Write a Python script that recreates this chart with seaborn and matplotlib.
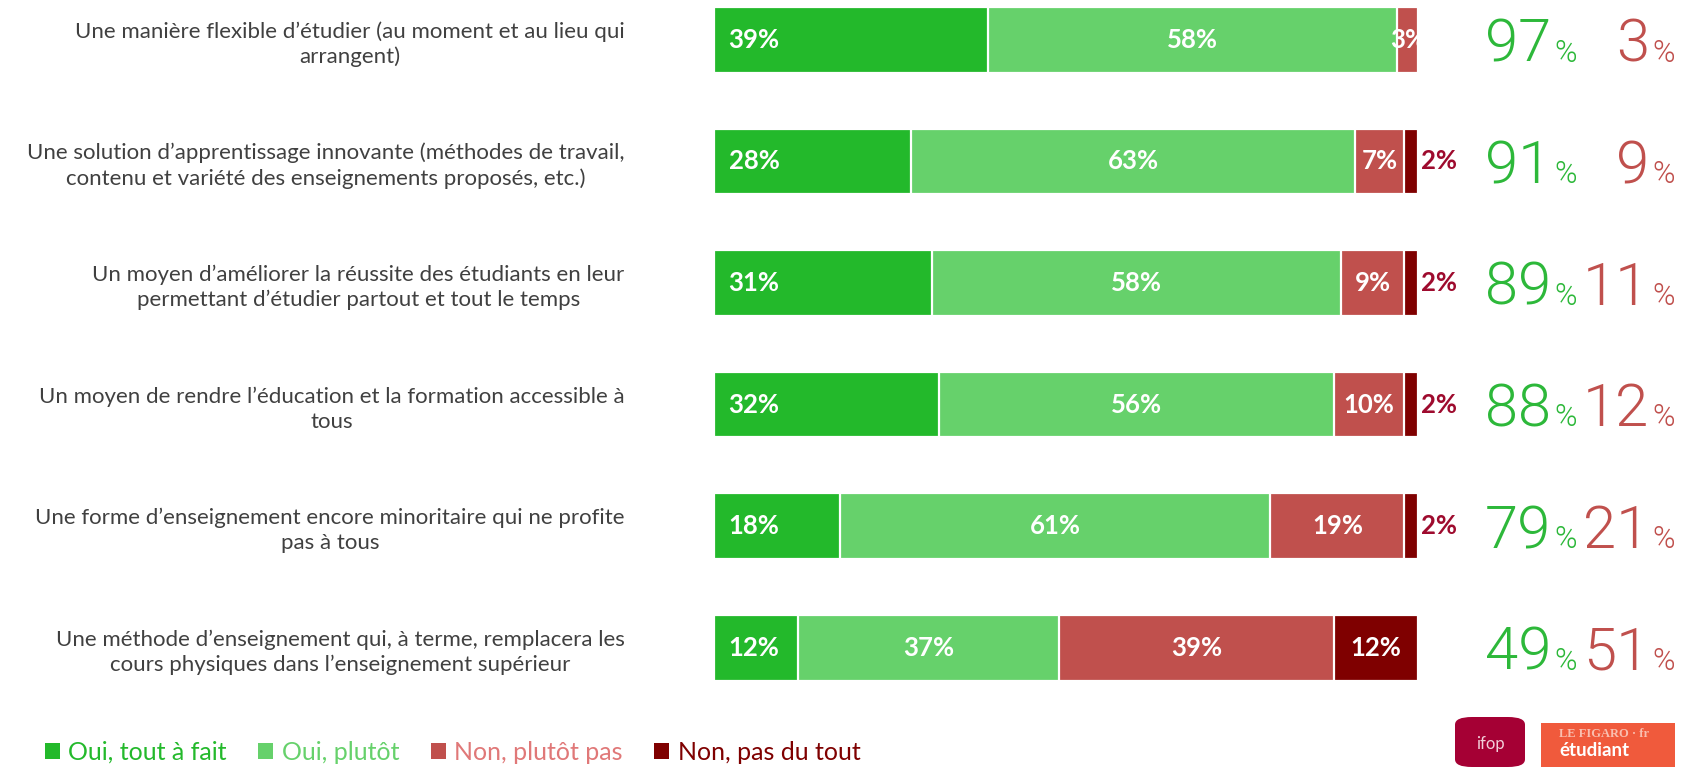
import numpy as np
import pandas as pd
import matplotlib
matplotlib.use("Agg")
import matplotlib.pyplot as plt
import seaborn as sns
from matplotlib.patches import Patch, FancyBboxPatch, Rectangle

# ---------------- data ----------------
categories = [
    "Une manière flexible d’étudier (au moment et au lieu qui\narrangent)",
    "Une solution d’apprentissage innovante (méthodes de travail,\ncontenu et variété des enseignements proposés, etc.)",
    "Un moyen d’améliorer la réussite des étudiants en leur\npermettant d’étudier partout et tout le temps",
    "Un moyen de rendre l’éducation et la formation accessible à\ntous",
    "Une forme d’enseignement encore minoritaire qui ne profite\npas à tous",
    "Une méthode d’enseignement qui, à terme, remplacera les\ncours physiques dans l’enseignement supérieur",
]
series_names = ["Oui, tout à fait", "Oui, plutôt", "Non, plutôt pas", "Non, pas du tout"]
oui_tout_a_fait = [39, 28, 31, 32, 18, 12]
oui_plutot = [58, 63, 58, 56, 61, 37]
non_plutot_pas = [3, 7, 9, 10, 19, 39]
non_pas_du_tout = [0, 2, 2, 2, 2, 12]

colors = ["#23B92B", "#66D16B", "#C0504D", "#7F0000"]
legend_text_colors = ["#23B92B", "#66D16B", "#E07878", "#7F0000"]
total_green = "#2DB83A"
total_red = "#C0504D"

# ---------------- figure ----------------
sns.set_theme(style="white")
plt.rcParams["font.family"] = ["Lato", "DejaVu Sans"]

W, H = 1690, 767
fig = plt.figure(figsize=(W / 100, H / 100), dpi=100)
x0_px, x1_px = 713.5, 1418.5
ax = fig.add_axes([x0_px / W, 1 - 700 / H, (x1_px - x0_px) / W, 700 / H])

vals = np.array([oui_tout_a_fait, oui_plutot, non_plutot_pas, non_pas_du_tout], dtype=float)
cum = np.cumsum(vals, axis=0)

df = pd.DataFrame({"cat": categories})
for k in range(3, -1, -1):
    df["v"] = cum[k]
    sns.barplot(data=df, x="v", y="cat", orient="h", color=colors[k], width=0.54,
                edgecolor="white", linewidth=1.6, saturation=1, ax=ax)

ax.set_xlim(0, 100)
ax.set_ylim(5.43, -0.328)
ax.set_xlabel("")
ax.set_ylabel("")
ax.set_xticks([])
for s in ax.spines.values():
    s.set_visible(False)
ax.tick_params(axis="y", length=0, pad=64)
for t in ax.get_yticklabels():
    t.set_multialignment("center")
    t.set_fontsize(16)
    t.set_color("#404040")
    t.set_linespacing(1.3)

# segment labels
px2x = lambda px: (px - x0_px) / ((x1_px - x0_px) / 100)
for i in range(len(categories)):
    for k in range(4):
        v = vals[k, i]
        if v <= 0:
            continue
        center = cum[k, i] - v / 2
        if v <= 2:
            ax.text(cum[k, i] + 0.3, i, f"{int(v)}%", ha="left", va="center",
                    color="#9E0B2E", fontsize=18.5, fontweight="bold", clip_on=False)
        elif k == 0:
            ax.text(px2x(x0_px + 15), i, f"{int(v)}%", ha="left", va="center",
                    color="white", fontsize=18.5, fontweight="bold", clip_on=False)
        else:
            ax.text(center, i, f"{int(v)}%", ha="center", va="center",
                    color="white", fontsize=18.5, fontweight="bold", clip_on=False)

# totals
tot_font = ["Roboto", "DejaVu Sans"]
for i in range(len(categories)):
    g = int(vals[0, i] + vals[1, i])
    r = int(vals[2, i] + vals[3, i])
    yb = i + 0.18
    ax.text(px2x(1551), yb, f"{g}", ha="right", va="baseline", color=total_green,
            fontsize=43, fontweight=300, family=tot_font, clip_on=False)
    ax.text(px2x(1554), yb, "%", ha="left", va="baseline", color=total_green,
            fontsize=22, fontweight=300, family=tot_font, clip_on=False)
    ax.text(px2x(1649), yb, f"{r}", ha="right", va="baseline", color=total_red,
            fontsize=43, fontweight=300, family=tot_font, clip_on=False)
    ax.text(px2x(1652), yb, "%", ha="left", va="baseline", color=total_red,
            fontsize=22, fontweight=300, family=tot_font, clip_on=False)

# legend
handles = [Patch(facecolor=c, edgecolor="none") for c in colors]
leg = fig.legend(handles, series_names, loc="center left",
                 bbox_to_anchor=(22 / W, 1 - 752 / H), ncol=4, frameon=False,
                 fontsize=18, handlelength=0.6, handleheight=0.6, handletextpad=0.35,
                 columnspacing=1.25, labelcolor=legend_text_colors)

# logos
ifop = FancyBboxPatch((1455 / W, 1 - 767 / H), 70 / W, 50 / H,
                      boxstyle="round,pad=0,rounding_size=0.01",
                      transform=fig.transFigure, facecolor="#A50034", edgecolor="none")
fig.patches.append(ifop)
fig.text(1490 / W, 1 - 744 / H, "ifop", color="#F2D0DA", fontsize=12, ha="center",
         va="center")
fig.patches.append(Rectangle((1541 / W, 0), 134 / W, 44 / H,
                             transform=fig.transFigure, facecolor="#F05A3C",
                             edgecolor="none"))
fig.text(1559 / W, 1 - 734 / H, "LE FIGARO · fr", color="#F9BFB0", fontsize=9,
         ha="left", va="center", family=["Liberation Serif", "DejaVu Serif"],
         fontweight="bold")
fig.text(1559 / W, 1 - 750 / H, "étudiant", color="white", fontsize=13.5,
         ha="left", va="center", fontweight="bold")

fig.savefig("out.png", dpi=100, facecolor="white")
